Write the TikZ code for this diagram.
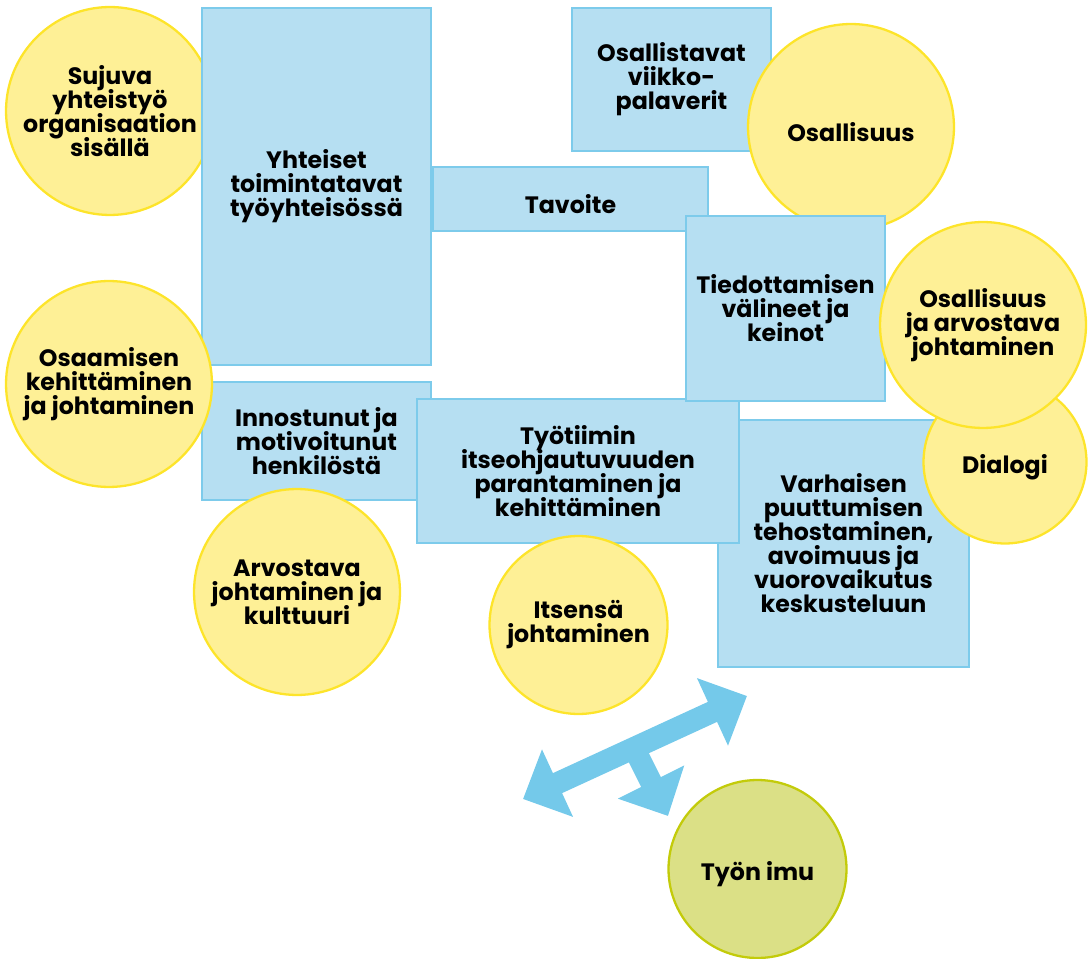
\documentclass[tikz,border=0pt]{standalone}
\usepackage{fontspec}
\setmainfont{Poppins}
\usepackage{tikz}
\usetikzlibrary{arrows.meta}

\definecolor{laatikkotausta}{HTML}{B6DFF2}
\definecolor{laatikkoreuna}{HTML}{7DCBEB}
\definecolor{pallotausta}{HTML}{FEF096}
\definecolor{palloreuna}{HTML}{FDE42A}
\definecolor{imutausta}{HTML}{DBE086}
\definecolor{imureuna}{HTML}{C3CB0A}
\definecolor{nuoli}{HTML}{74C9EA}

\newcommand{\tekstifontti}{\fontsize{13.5}{13.66}\selectfont\bfseries\lineskiplimit=-20pt}

\begin{document}
\begin{tikzpicture}[x=0.02cm,y=-0.02cm,
    laatikko/.style={draw=laatikkoreuna,fill=laatikkotausta,line width=1.3pt,align=center,font=\tekstifontti,inner sep=0pt,execute at begin node={\rule{0pt}{17pt}}},
    pallo/.style={circle,draw=palloreuna,fill=pallotausta,line width=1.3pt,align=center,font=\tekstifontti,inner sep=0pt,execute at begin node={\rule{0pt}{17pt}}},
    imupallo/.style={pallo,draw=imureuna,fill=imutausta}]
    \useasboundingbox (0,0) rectangle (1089,959);
    % left column
    \node[pallo,minimum size=4.16cm] (sujuva) at (110,111) {Sujuva\\yhteistyö\\organisaation\\sisällä};
    \node[laatikko,minimum width=4.58cm,minimum height=7.14cm] (yhteiset) at (316.5,186.5) {Yhteiset\\toimintatavat\\työyhteisössä};
    \node[laatikko,minimum width=4.58cm,minimum height=2.36cm] (innostunut) at (316.5,441) {Innostunut ja\\motivoitunut\\henkilöstä};
    \node[pallo,minimum size=4.12cm] (osaamisen) at (109,384) {Osaamisen\\kehittäminen\\ja johtaminen};
    \node[pallo,minimum size=4.12cm] (arvostava) at (297,592) {Arvostava\\johtaminen ja\\kulttuuri};
    % middle and right
    \node[laatikko,minimum width=5.02cm,minimum height=4.94cm] (varhaisen) at (843.5,543.5) {Varhaisen\\puuttumisen\\tehostaminen,\\avoimuus ja\\vuorovaikutus\\keskusteluun};
    \node[laatikko,minimum width=6.44cm,minimum height=2.88cm] (tyotiimi) at (578,471) {Työtiimin\\itseohjautuvuuden\\parantaminen ja\\kehittäminen};
    \node[pallo,minimum size=3.56cm] (itsensa) at (578.5,625) {Itsensä\\johtaminen};
    \node[pallo,minimum size=3.26cm] (dialogi) at (1005,462) {Dialogi};
    \node[laatikko,minimum width=3.98cm,minimum height=2.86cm] (viikko) at (671.5,79.5) {Osallistavat\\viikko-\\palaverit};
    \node[pallo,minimum size=4.12cm] (osallisuus) at (851,127) {Osallisuus};
    \node[laatikko,minimum width=5.5cm,minimum height=1.28cm] (tavoite) at (570.5,199) {Tavoite};
    \node[laatikko,minimum width=3.98cm,minimum height=3.7cm] (tiedotus) at (785.5,308.5) {Tiedottamisen\\välineet ja\\keinot};
    \node[pallo,minimum size=4.12cm] (osarvo) at (983,325) {Osallisuus\\ja arvostava\\johtaminen};
    % bottom
    \node[imupallo,minimum size=3.56cm] (imu) at (757.5,869) {Työn imu};
    \coordinate (nuoliV) at (523,799);
    \coordinate (nuoliO) at (747,696);
    \coordinate (nuoliK) at (634,748);
    \coordinate (nuoliA) at (668,816);
    \draw[nuoli,line width=0.44cm,{Triangle[length=0.76cm,width=1.44cm]}-{Triangle[length=0.76cm,width=1.44cm]}] (nuoliV) -- (nuoliO);
    \draw[nuoli,line width=0.44cm,-{Triangle[length=0.76cm,width=1.44cm]}] (nuoliK) -- (nuoliA);
\end{tikzpicture}
\end{document}
